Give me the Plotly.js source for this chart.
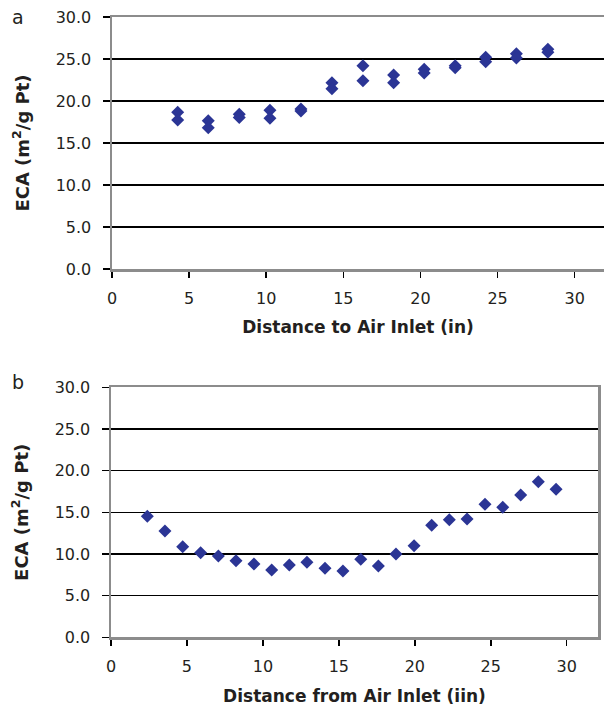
<!DOCTYPE html>
<html>
<head>
<meta charset="utf-8">
<script src="https://cdn.plot.ly/plotly-3.0.1.min.js"></script>
<style>html,body{margin:0;padding:0;background:#fff;}#chart{width:604px;height:711px;}</style>
</head>
<body>
<div id="chart"></div>
<script>
// Panel a: distance to air inlet (in) vs ECA (m2/g Pt), two measurements per position
const distA = [4.26, 4.26, 6.24, 6.24, 8.25, 8.25, 10.24, 10.24, 12.25, 12.25, 14.26, 14.26, 16.27, 16.27, 18.26, 18.26, 20.24, 20.24, 22.25, 22.25, 24.23, 24.23, 26.22, 26.22, 28.26, 28.26];
const ecaA  = [18.65, 17.74, 17.66, 16.82, 18.41, 18.05, 18.89, 17.94, 19.05, 18.81, 22.18, 21.47, 24.21, 22.42, 23.10, 22.18, 23.77, 23.33, 24.21, 23.97, 25.20, 24.68, 25.63, 25.12, 26.15, 25.79];

// Panel b: distance from air inlet (iin) vs ECA (m2/g Pt)
const distB = [2.39, 3.55, 4.72, 5.90, 7.07, 8.23, 9.41, 10.58, 11.74, 12.90, 14.09, 15.27, 16.44, 17.60, 18.76, 19.95, 21.11, 22.27, 23.44, 24.62, 25.79, 26.97, 28.13, 29.30];
const ecaB  = [14.52, 12.76, 10.87, 10.15, 9.76, 9.19, 8.80, 8.08, 8.68, 9.00, 8.28, 7.96, 9.36, 8.56, 10.00, 10.99, 13.44, 14.11, 14.20, 15.96, 15.60, 17.08, 18.67, 17.76];

const yTickVals = [0, 5, 10, 15, 20, 25, 30];
const xTickVals = [0, 5, 10, 15, 20, 25, 30];
const panelLabels = ['a', 'b'];
const xTitles = ['Distance to Air Inlet (in)', 'Distance from Air Inlet (iin)'];
const yTitle = 'ECA (m<sup>2</sup>/g Pt)';

const FAM = 'DejaVu Sans, Liberation Sans, Arial, sans-serif';
const markerStyle = {symbol: 'diamond', size: 10, color: '#2B3595', line: {width: 0}};
const traces = [
  {x: distA, y: ecaA, type: 'scatter', mode: 'markers', marker: markerStyle, xaxis: 'x', yaxis: 'y', showlegend: false, hoverinfo: 'x+y'},
  {x: distB, y: ecaB, type: 'scatter', mode: 'markers', marker: markerStyle, xaxis: 'x2', yaxis: 'y2', showlegend: false, hoverinfo: 'x+y'}
];

const tickFont = {family: FAM, size: 16, color: '#231f20'};
const xTitleFont = {family: FAM, size: 17, color: '#231f20', weight: 'bold'};
const yTitleFont = {family: FAM, size: 18, color: '#231f20', weight: 'bold'};
const H = 711, W = 604;

function xAxis(range, domain, title, anchor, mirror) {
  return {
    domain: domain, range: range, anchor: anchor,
    tickvals: xTickVals, ticks: 'outside', ticklen: 6, tickwidth: 1.5, tickcolor: '#000',
    showgrid: false, zeroline: false,
    showline: true, linecolor: '#8c8c8c', linewidth: 2.5, mirror: mirror,
    tickfont: tickFont, ticklabelstandoff: 7,
    title: {text: title, font: xTitleFont, standoff: 15},
    automargin: false
  };
}
function yAxis(domain, anchor, mirror) {
  return {
    domain: domain, range: [0, 30], anchor: anchor,
    tickvals: yTickVals, tickformat: '.1f', ticks: 'outside', ticklen: 7, tickwidth: 1.5, tickcolor: '#000',
    showgrid: true, gridcolor: '#000', gridwidth: 1.2, zeroline: false,
    showline: true, linecolor: '#8c8c8c', linewidth: 2.5, mirror: mirror,
    tickfont: tickFont, ticklabelstandoff: 8,
    title: {text: yTitle, font: yTitleFont, standoff: 22},
    automargin: false
  };
}

const layout = {
  width: W, height: H,
  margin: {l: 0, r: 0, t: 0, b: 0},
  paper_bgcolor: '#fff', plot_bgcolor: '#fff',
  xaxis: xAxis([0, 31.9], [112 / W, 1], xTitles[0], 'y', true),
  yaxis: yAxis([1 - 269 / H, 1 - 17 / H], 'x', false),
  xaxis2: xAxis([0, 32.06], [111 / W, 598 / W], xTitles[1], 'y2', true),
  yaxis2: yAxis([1 - 637.3 / H, 1 - 387.3 / H], 'x2', true),
  annotations: [
    {text: panelLabels[0], xref: 'paper', yref: 'paper', x: 18 / W, y: 1 - 17 / H, xanchor: 'center', yanchor: 'middle', showarrow: false, font: {family: FAM, size: 19, color: '#231f20'}},
    {text: panelLabels[1], xref: 'paper', yref: 'paper', x: 18 / W, y: 1 - 382 / H, xanchor: 'center', yanchor: 'middle', showarrow: false, font: {family: FAM, size: 19, color: '#231f20'}}
  ]
};

Plotly.newPlot('chart', traces, layout, {displayModeBar: false, staticPlot: true});
</script>
</body>
</html>
